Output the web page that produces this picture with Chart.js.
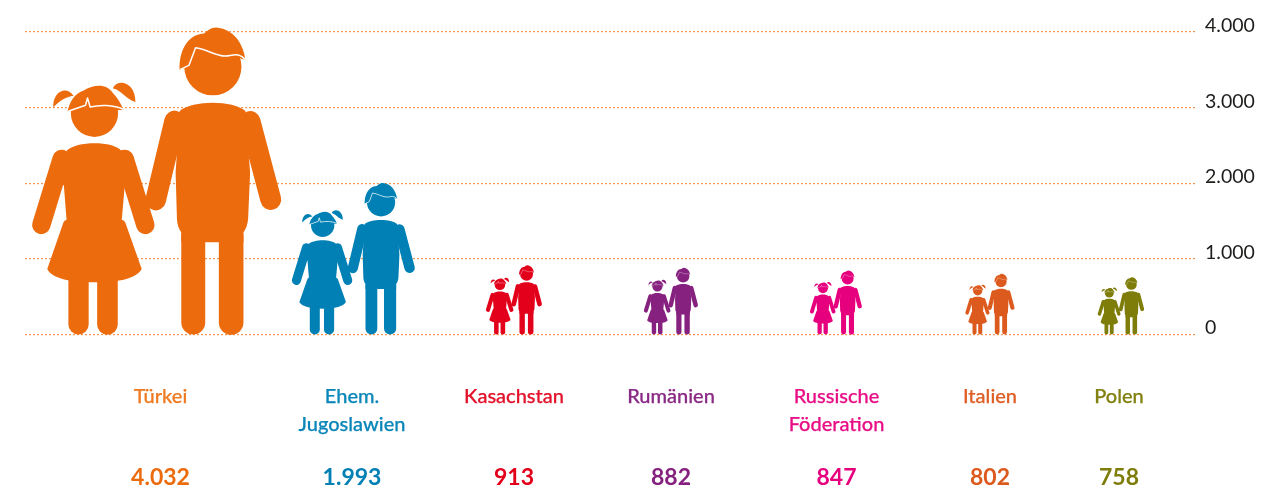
<!DOCTYPE html>
<html lang="de">
<head>
<meta charset="utf-8">
<style>html,body{margin:0;padding:0;background:#fff}canvas{display:block}</style>
<script src="https://cdn.jsdelivr.net/npm/chart.js@4"></script>
</head>
<body>
<canvas id="c" width="1281" height="489"></canvas>
<script>
// Data
const categories = ['Türkei', ['Ehem.', 'Jugoslawien'], 'Kasachstan', 'Rumänien', ['Russische', 'Föderation'], 'Italien', 'Polen'];
const values = [4032, 1993, 913, 882, 847, 802, 758];
const valueLabels = ['4.032', '1.993', '913', '882', '847', '802', '758'];
const yTicks = [0, 1000, 2000, 3000, 4000];
const yTickLabels = ['0', '1.000', '2.000', '3.000', '4.000'];
// Layout and style
const figureColumns = [132, 328.5, 489, 646, 811, 965, 1096];
const labelColumns = [135.5, 327, 489, 646, 811.5, 965, 1094];
const colours = ['#ec6b0d', '#0080b4', '#e2001a', '#86217f', '#e6007e', '#dd5a1e', '#7e7d0a'];
const labelColours = ['#f07a22', '#0a86b8', '#e4112b', '#8a2a85', '#e80f86', '#df5f26', '#82810f'];

// Pictogram artwork, in artwork units: feet on y=947, group centred on x=412, about 925 units tall.
function limb(ctx, x1, y1, x2, y2, w) {
  ctx.lineWidth = w; ctx.lineCap = 'round';
  ctx.beginPath(); ctx.moveTo(x1, y1); ctx.lineTo(x2, y2); ctx.stroke();
}
function drawChildren(ctx, colour) {
  ctx.fillStyle = colour; ctx.strokeStyle = colour; ctx.lineJoin = 'round'; ctx.setLineDash([]);
  // girl head
  ctx.beginPath(); ctx.arc(224, 282, 71, 0, Math.PI * 2); ctx.fill();
  // girl hair
  ctx.beginPath(); ctx.moveTo(143, 276);
  ctx.bezierCurveTo(150, 245, 165, 222, 190, 214);
  ctx.bezierCurveTo(225, 193, 262, 193, 280, 222);
  ctx.bezierCurveTo(295, 238, 305, 255, 311, 272);
  ctx.closePath(); ctx.fill();
  // pigtails
  ctx.beginPath(); ctx.moveTo(100, 265);
  ctx.bezierCurveTo(98, 215, 140, 198, 161, 229);
  ctx.bezierCurveTo(140, 232, 120, 242, 100, 265); ctx.closePath(); ctx.fill();
  ctx.beginPath(); ctx.moveTo(279, 207);
  ctx.bezierCurveTo(295, 175, 348, 190, 347, 248);
  ctx.bezierCurveTo(318, 240, 310, 216, 279, 207); ctx.closePath(); ctx.fill();
  // girl fringe
  ctx.save(); ctx.strokeStyle = '#fff'; ctx.lineWidth = 4.5; ctx.lineCap = 'butt';
  ctx.beginPath(); ctx.moveTo(145, 276); ctx.lineTo(197, 258); ctx.lineTo(203, 236); ctx.lineTo(211, 263);
  ctx.bezierCurveTo(240, 256, 280, 256, 311, 270); ctx.stroke(); ctx.restore();
  // girl arms
  limb(ctx, 125, 419, 64, 618, 55);
  limb(ctx, 315, 419, 377, 618, 55);
  // girl torso and skirt
  ctx.beginPath(); ctx.moveTo(140, 395);
  ctx.bezierCurveTo(170, 365, 280, 365, 305, 395);
  ctx.lineTo(320, 490); ctx.lineTo(315, 500); ctx.lineTo(306, 602);
  ctx.bezierCurveTo(312, 603, 316, 608, 318, 614);
  ctx.lineTo(366, 750);
  ctx.bezierCurveTo(350, 778, 300, 790, 225, 790);
  ctx.bezierCurveTo(150, 790, 95, 778, 82, 750);
  ctx.lineTo(130, 612);
  ctx.bezierCurveTo(132, 606, 136, 603, 140, 602);
  ctx.lineTo(132, 500); ctx.lineTo(125, 490); ctx.closePath(); ctx.fill();
  // girl legs
  limb(ctx, 176, 780, 176, 917, 61);
  limb(ctx, 263, 780, 263, 917, 62);
  // boy head
  ctx.beginPath(); ctx.arc(580, 142, 86, 0, Math.PI * 2); ctx.fill();
  // boy hair
  ctx.beginPath(); ctx.moveTo(480, 151);
  ctx.bezierCurveTo(478, 100, 500, 45, 553, 42);
  ctx.bezierCurveTo(565, 35, 572, 24, 590, 24);
  ctx.bezierCurveTo(640, 28, 672, 70, 678, 122);
  ctx.lineTo(640, 110); ctx.lineTo(530, 90); ctx.lineTo(510, 142); ctx.closePath(); ctx.fill();
  // boy fringe
  ctx.save(); ctx.strokeStyle = '#fff'; ctx.lineWidth = 4.5; ctx.lineCap = 'butt';
  ctx.beginPath(); ctx.moveTo(482, 150); ctx.lineTo(508, 138); ctx.lineTo(528, 85);
  ctx.bezierCurveTo(560, 88, 590, 112, 620, 110);
  ctx.bezierCurveTo(640, 108, 660, 98, 678, 122); ctx.stroke(); ctx.restore();
  // boy arms
  limb(ctx, 465, 305, 408, 543, 62);
  limb(ctx, 692, 307, 754, 541, 63);
  // boy torso
  ctx.beginPath(); ctx.moveTo(480, 275);
  ctx.bezierCurveTo(520, 242, 640, 242, 678, 275);
  ctx.lineTo(692, 460); ctx.lineTo(686, 600);
  ctx.bezierCurveTo(684, 620, 678, 632, 672, 640);
  ctx.lineTo(672, 670); ctx.lineTo(485, 670); ctx.lineTo(485, 640);
  ctx.bezierCurveTo(478, 630, 473, 618, 472, 600);
  ctx.lineTo(468, 460); ctx.closePath(); ctx.fill();
  // boy legs
  limb(ctx, 521, 650, 521, 911, 72);
  limb(ctx, 635, 650, 635, 911, 74);
}

// Draws each bar of the series as a pictogram spanning the bar's own scale-derived height.
const pictograms = {
  id: 'pictograms',
  afterDatasetsDraw(chart) {
    const ctx = chart.ctx;
    chart.getDatasetMeta(0).data.forEach(bar => {
      const s = (bar.base - bar.y) / 915;
      ctx.save();
      ctx.translate(bar.x, bar.base + 0.5);
      ctx.scale(s, s);
      ctx.translate(-412, -947);
      drawChildren(ctx, bar.options.backgroundColor);
      ctx.restore();
    });
  }
};

new Chart(document.getElementById('c'), {
  type: 'bar',
  plugins: [pictograms],
  data: {
    labels: categories,
    datasets: [{
      data: values.map((v, i) => ({ x: figureColumns[i], y: v })),
      backgroundColor: colours,
      barThickness: 0,
      borderWidth: 0
    }]
  },
  options: {
    responsive: false,
    animation: false,
    devicePixelRatio: 1,
    events: [],
    layout: { padding: { left: 25, right: 0, top: 0, bottom: 0 } },
    plugins: { legend: { display: false }, tooltip: { enabled: false } },
    scales: {
      x: {
        type: 'linear', position: 'bottom', offset: false, min: 0, max: 1171,
        grid: { display: false }, border: { display: false },
        afterBuildTicks: a => { a.ticks = labelColumns.map(value => ({ value })); },
        afterFit: a => { a.height = 105; a.paddingLeft = 0; a.paddingRight = 0; },
        ticks: {
          autoSkip: false, maxRotation: 0, minRotation: 0, padding: 40,
          callback: (v, i) => categories[i],
          color: c => labelColours[c.index],
          textStrokeColor: c => labelColours[c.index],
          textStrokeWidth: 0.25,
          font: { family: '"Lato Medium", Lato', size: 20, weight: '500', lineHeight: 1.4 }
        }
      },
      x2: {
        type: 'linear', position: 'bottom', offset: false, min: 0, max: 1171,
        grid: { display: false }, border: { display: false },
        afterBuildTicks: a => { a.ticks = labelColumns.map(value => ({ value })); },
        afterFit: a => { a.height = 49.5; a.paddingLeft = 0; a.paddingRight = 0; },
        ticks: {
          autoSkip: false, maxRotation: 0, minRotation: 0, padding: 16,
          callback: (v, i) => valueLabels[i],
          color: c => colours[c.index],
          font: { family: 'Lato', size: 23, weight: '700', lineHeight: 1.2 }
        }
      },
      y: {
        type: 'linear', position: 'right', min: 0, max: 4424,
        afterBuildTicks: a => { a.ticks = yTicks.map(value => ({ value })); },
        afterFit: a => { a.width = 85; a.paddingTop = 0; a.paddingBottom = 0; },
        border: { display: false, dash: [2, 2] },
        grid: { color: '#f39550', lineWidth: 1.2, drawTicks: false },
        ticks: {
          padding: 9, color: '#1d1d1b',
          callback: (v, i) => [yTickLabels[i], ''],
          font: { family: 'Lato', size: 19.5, lineHeight: 0.65 }
        }
      }
    }
  }
});
</script>
</body>
</html>
